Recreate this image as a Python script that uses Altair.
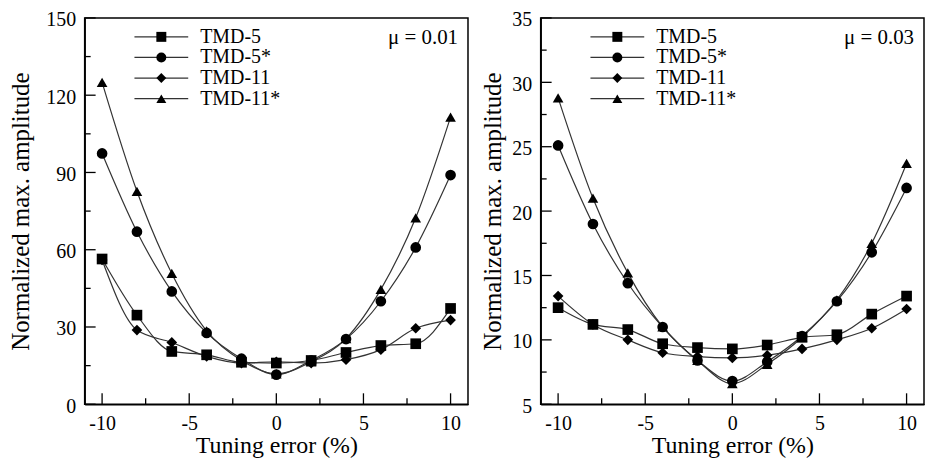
import altair as alt
import pandas as pd

# ---------------- data ----------------
tuning_error = [-10, -8, -6, -4, -2, 0, 2, 4, 6, 8, 10]
series_names = ["TMD-5", "TMD-5*", "TMD-11", "TMD-11*"]

# mu = 0.01
mu1_tmd5 = [56.4, 34.6, 20.5, 19.2, 16.3, 16.0, 17.0, 20.1, 22.8, 23.5, 37.2]
mu1_tmd5s = [97.4, 67.0, 43.8, 27.7, 17.7, 11.5, 17.0, 25.3, 40.0, 60.9, 89.0]
mu1_tmd11 = [56.0, 28.8, 24.0, 18.6, 16.0, 16.5, 16.0, 17.3, 21.2, 29.5, 32.7]
mu1_tmd11s = [125.0, 82.7, 50.8, 28.5, 17.0, 11.8, 16.5, 25.5, 44.6, 72.4, 111.5]

# mu = 0.03
mu3_tmd5 = [12.5, 11.2, 10.8, 9.7, 9.4, 9.3, 9.6, 10.2, 10.4, 12.0, 13.4]
mu3_tmd5s = [25.1, 19.0, 14.4, 11.0, 8.4, 6.8, 8.3, 10.3, 13.0, 16.8, 21.8]
mu3_tmd11 = [13.4, 11.2, 10.0, 9.0, 8.7, 8.6, 8.8, 9.3, 10.0, 10.9, 12.4]
mu3_tmd11s = [28.8, 21.0, 15.2, 11.0, 8.4, 6.6, 8.1, 10.2, 13.1, 17.5, 23.7]

x_major = [-10, -5, 0, 5, 10]
x_minor = [-7.5, -2.5, 2.5, 7.5]
y1_major = [0, 30, 60, 90, 120, 150]
y1_minor = [15, 45, 75, 105, 135]
y3_major = [5, 10, 15, 20, 25, 30, 35]
y3_minor = [7.5, 12.5, 17.5, 22.5, 27.5, 32.5]

mu_labels = ["\u03bc = 0.01", "\u03bc = 0.03"]

# ---------------- styling ----------------
FONT = "'Liberation Serif', 'Times New Roman', Times, serif"
W, H = 385, 388
LINE_COLOR = "#333333"
shape_range = ["square", "circle", "diamond", "triangle-up"]
LEG_X, LEG_Y = 67, 9
LEG_ROWPAD = 0.7
LEG_FS = 20


def make_df(vals):
    rows = []
    for name, ys in zip(series_names, vals):
        for xv, yv in zip(tuning_error, ys):
            rows.append({"x": xv, "y": yv, "series": name})
    return pd.DataFrame(rows)


def panel(vals, ydom, ymaj, ymin, mu, title_pad):
    df = make_df(vals)
    xs = alt.Scale(domain=[-11, 11], nice=False, zero=False)
    ys = alt.Scale(domain=ydom, nice=False, zero=False)
    x_enc = alt.X(
        "x:Q", scale=xs,
        axis=alt.Axis(values=x_major, title="Tuning error (%)", ticks=False,
                      labelExpr="'' + datum.value", grid=False,
                      labelFont=FONT, labelFontSize=20, labelColor="black",
                      titleFont=FONT, titleFontSize=24, titleFontWeight="normal",
                      titleColor="black",
                      labelPadding=9, titlePadding=0),
    )
    y_enc = alt.Y(
        "y:Q", scale=ys,
        axis=alt.Axis(values=ymaj, title="Normalized max. amplitude", ticks=False,
                      labelExpr="'' + datum.value", grid=False,
                      labelFont=FONT, labelFontSize=20, labelColor="black",
                      titleFont=FONT, titleFontSize=25, titleFontWeight="normal",
                      titleColor="black",
                      labelPadding=9, labelOffset=2, titlePadding=title_pad),
    )
    # line layer: its legend draws only the line segments behind the markers
    lines = alt.Chart(df).mark_line(
        interpolate="monotone", strokeWidth=1.2
    ).encode(
        x=x_enc, y=y_enc,
        color=alt.Color(
            "series:N",
            scale=alt.Scale(domain=series_names[::-1],
                            range=[LINE_COLOR] * len(series_names)),
            legend=alt.Legend(
                title=None, orient="none", legendX=LEG_X, legendY=LEG_Y,
                symbolType="M-5.4,0H5.4", symbolSize=100, symbolStrokeWidth=1.2,
                symbolStrokeColor=LINE_COLOR,
                labelFont=FONT, labelFontSize=LEG_FS, labelExpr="''",
                rowPadding=LEG_ROWPAD,
            ),
        ),
    )
    points = alt.Chart(df).mark_point(
        filled=True, color="black", opacity=1, size=115
    ).encode(
        x="x:Q", y="y:Q",
        shape=alt.Shape(
            "series:N",
            scale=alt.Scale(domain=series_names, range=shape_range),
            legend=alt.Legend(
                title=None, orient="none", legendX=LEG_X, legendY=LEG_Y,
                labelFont=FONT, labelFontSize=LEG_FS, labelColor="black",
                labelOffset=29, rowPadding=LEG_ROWPAD, symbolSize=100,
                symbolFillColor="black", symbolStrokeColor="black",
                symbolStrokeWidth=0, symbolOpacity=1,
            ),
        ),
    )
    xt_major = alt.Chart(pd.DataFrame({"v": x_major})).mark_rule(
        color="black", strokeWidth=1.3
    ).encode(x="v:Q", y=alt.value(H), y2=alt.value(H - 11))
    xt_minor = alt.Chart(pd.DataFrame({"v": x_minor})).mark_rule(
        color="black", strokeWidth=1.3
    ).encode(x="v:Q", y=alt.value(H), y2=alt.value(H - 6))
    yt_major = alt.Chart(pd.DataFrame({"v": ymaj})).mark_rule(
        color="black", strokeWidth=1.3
    ).encode(y="v:Q", x=alt.value(0), x2=alt.value(11))
    yt_minor = alt.Chart(pd.DataFrame({"v": ymin})).mark_rule(
        color="black", strokeWidth=1.3
    ).encode(y="v:Q", x=alt.value(0), x2=alt.value(6))
    mu_txt = alt.Chart(pd.DataFrame({"t": [mu]})).mark_text(
        align="right", baseline="middle", font=FONT, fontSize=21, color="black"
    ).encode(text="t:N", x=alt.value(W - 10), y=alt.value(20))
    return alt.layer(
        lines, points, xt_major, xt_minor, yt_major, yt_minor, mu_txt
    ).properties(width=W, height=H)


left = panel([mu1_tmd5, mu1_tmd5s, mu1_tmd11, mu1_tmd11s], [0, 150],
             y1_major, y1_minor, mu_labels[0], 12)
right = panel([mu3_tmd5, mu3_tmd5s, mu3_tmd11, mu3_tmd11s], [5, 35],
              y3_major, y3_minor, mu_labels[1], 6)

chart = alt.hconcat(left, right, spacing=11).resolve_scale(
    shape="independent", color="independent"
).resolve_legend(
    shape="independent", color="independent"
).properties(padding=0).configure(font=FONT).configure_view(
    stroke="black", strokeWidth=1.5
).configure_axis(
    domainColor="black", domainWidth=1.5,
    labelFont=FONT, titleFont=FONT,
).configure_text(font=FONT)

chart.save("out.html", embed_options={"renderer": "svg", "actions": False})
